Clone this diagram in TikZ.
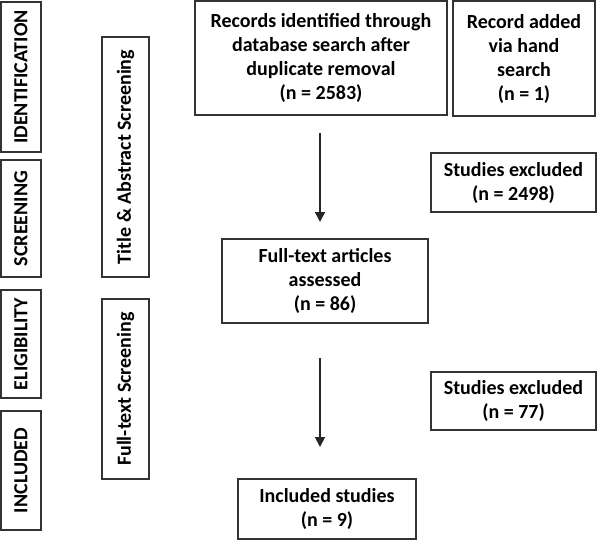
\documentclass[tikz,border=0pt]{standalone}
\usepackage{fontspec}
\setmainfont{Carlito}
\usepackage{tikz}
\usetikzlibrary{arrows.meta}

\tikzset{
  phasebox/.style={rectangle,draw=black!80,line width=0.85pt,rotate=90,inner sep=0pt,
    font=\fontsize{10}{12}\selectfont\bfseries},
  flowbox/.style={rectangle,draw=black!80,line width=0.85pt,align=center,inner sep=0pt,
    font=\fontsize{10}{12}\selectfont\bfseries},
  flowarrow/.style={draw=black!85,line width=0.8pt,-{Triangle[length=5pt,width=5pt]}}
}

\begin{document}
\begin{tikzpicture}[x=0.5pt,y=-0.5pt]
\useasboundingbox (0,0) rectangle (597,548);
%Stage Labels
\node at (21,77) [phasebox,minimum width=75pt,minimum height=20pt] (Ident) {IDENTIFICATION};
\node at (21,218.5) [phasebox,minimum width=58.5pt,minimum height=20pt] (Screen) {SCREENING};
\node at (21,344) [phasebox,minimum width=54pt,minimum height=20pt] (Elig) {ELIGIBILITY};
\node at (21,470.5) [phasebox,minimum width=59.5pt,minimum height=20pt] (Incl) {INCLUDED};
%Screening Labels
\node at (125.5,157) [phasebox,minimum width=120pt,minimum height=23.5pt] (TitleAbs) {Title \& Abstract Screening};
\node at (125.5,389) [phasebox,minimum width=90pt,minimum height=23.5pt] (FullScr) {Full-text Screening};
%Flow Boxes
\node at (321,58) [flowbox,minimum width=126pt,minimum height=57pt] (Records)
  {Records identified through\\database search after\\duplicate removal\\(n = 2583)};
\node at (524,58.5) [flowbox,minimum width=71pt,minimum height=57.5pt] (Added)
  {Record added\\via hand\\search\\(n = 1)};
\node at (513.5,182.5) [flowbox,minimum width=82.5pt,minimum height=29.5pt] (ExclOne)
  {Studies excluded\\(n = 2498)};
\node at (325,281) [flowbox,minimum width=103pt,minimum height=42pt] (FullText)
  {Full-text articles\\assessed\\(n = 86)};
\node at (513.5,401) [flowbox,minimum width=82.5pt,minimum height=29pt] (ExclTwo)
  {Studies excluded\\(n = 77)};
\node at (327,509) [flowbox,minimum width=89pt,minimum height=30pt] (Included)
  {Included studies\\(n = 9)};
%Arrow Ends
\coordinate (ArrOneA) at (320,133);
\coordinate (ArrOneB) at (320,222);
\coordinate (ArrTwoA) at (320,358);
\coordinate (ArrTwoB) at (320,447);
%Connections
\draw [flowarrow] (ArrOneA) -- (ArrOneB);
\draw [flowarrow] (ArrTwoA) -- (ArrTwoB);
\end{tikzpicture}
\end{document}
